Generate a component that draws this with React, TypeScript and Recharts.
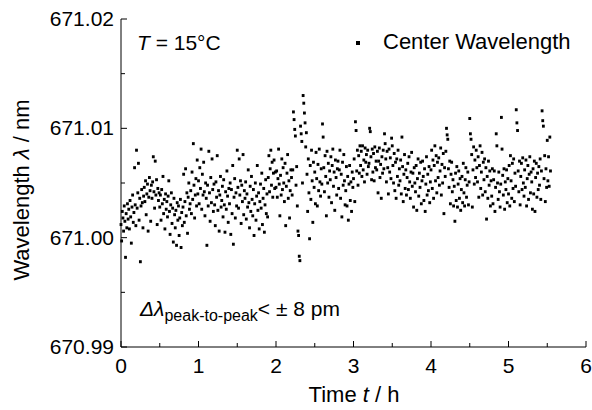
import { ScatterChart, Scatter, XAxis, YAxis } from "recharts";

// wavelength offsets from 671.000 nm, in pm, sampled every 0.5 min (1/120 h)
const hour0 = [
    1.2, -0.3, 2.4, 1.8, 0.6, 2.9, 1.5, -1.8, 2.2, 0.9, 3.1, 1.7,
    2.6, 0.8, 3.4, 1.9, -0.5, 2.8, 3.9, 1.4, 2.3, 6.4, 3.0, 1.1,
    8.0, 2.7, 4.1, 6.8, 1.6, 3.6, -2.2, 2.9, 4.4, 3.2, 0.9, 3.8,
    4.6, 3.3, 5.2, 2.1, 4.0, 4.9, 0.6, 3.7, 5.5, 4.3, 1.5, 4.8,
    3.6, 5.1, 7.4, 4.2, 2.7, 7.0, 3.9, 5.3, 1.2, 4.5, 3.4, 4.1,
    2.8, 3.9, 1.6, 4.4, 3.1, 5.6, 2.2, 3.5, 0.8, 4.0, 2.6, 3.3,
    1.9, 3.8, 5.2, 2.4, 0.3, 3.0, 4.1, 1.3, 2.7, -0.4, 3.6, 2.1,
    0.9, 2.5, -0.7, 3.2, 1.6, 2.9, 0.2, 1.8, 3.5, -0.9, 2.3, 1.1,
    2.8, 5.8, 1.4, 3.3, 6.3, 2.0, 4.1, 0.4, 3.7, 5.0, 2.6, 3.1,
    4.3, 2.2, 6.0, 3.5, 8.6, 4.8, 1.8, 3.9, 5.4, 2.9, 7.1, 4.0,
];
const hour1 = [
    5.2, 3.1, 6.4, 4.5, 8.1, 2.6, 5.8, 3.9, 6.9, 4.2, 2.0, 5.0,
    3.6, -0.7, 4.8, 2.9, 7.9, 4.1, 1.5, 5.5, 3.2, 7.2, 4.4, 2.4,
    4.9, 3.0, 1.1, 5.1, 3.7, 7.5, 2.5, 4.3, 0.6, 3.9, 5.6, 2.8,
    3.4, 4.7, 1.9, 5.3, 3.0, 0.5, 4.2, 2.6, 6.1, 3.8, 1.4, 4.5,
    3.1, 5.0, 0.3, 4.4, 2.2, 6.6, -0.6, 3.7, 5.4, 1.8, 4.1, 2.9,
    8.0, 4.6, 2.7, 7.2, 3.9, 5.2, 1.3, 4.8, 3.3, 7.6, 2.1, 4.3,
    3.6, 5.1, 1.7, 4.0, 2.8, 6.2, 3.2, 0.9, 4.7, 2.4, 5.6, 3.5,
    2.0, 4.4, 0.2, 3.1, 5.0, 1.6, 3.8, 6.6, 2.5, 4.1, 0.8, 3.3,
    4.9, 2.7, 5.9, 1.2, 3.6, 4.5, 0.5, 3.0, 5.3, 2.2, 4.0, 1.9,
    5.5, 7.5, 4.2, 6.3, 8.0, 4.8, 6.9, 3.7, 5.9, 7.1, 4.5, 6.0,
];
const hour2 = [
    4.6, 6.1, 3.7, 5.4, 8.1, 4.9, 2.0, 5.7, 3.9, 7.2, 4.4, 6.4,
    5.0, 3.3, 6.8, 1.1, 4.7, 5.9, 7.6, 3.6, 5.2, 1.8, 4.3, 6.2,
    5.5, 3.9, 6.2, 11.5, 10.8, 9.9, 9.3, 4.8, 6.5, 2.9, 0.6, 0.2,
    -1.7, -2.1, 10.2, 9.5, 8.8, 5.0, 13.0, 12.3, 11.4, 10.5, 8.3, 9.6,
    5.8, 2.4, 7.2, 4.1, -0.1, 6.6, 3.5, 8.0, 5.2, 1.4, 6.9, 4.6,
    6.0, 3.1, 7.8, 5.4, 2.9, 6.7, 4.3, 8.1, 5.1, 3.8, 6.3, 4.9,
    10.4, 9.2, 6.4, 4.2, 7.5, 5.6, 2.0, 7.9, 5.0, 6.8, 3.7, 6.1,
    5.3, 7.4, 3.2, 6.6, 8.1, 4.7, 6.0, 2.5, 7.1, 5.5, 3.9, 6.3,
    7.0, 4.5, 6.2, 8.0, 3.6, 5.8, 1.9, 6.9, 4.8, 7.6, 5.2, 3.0,
    4.3, 6.5, 2.9, 5.6, 1.6, 4.9, 6.6, 3.4, 5.1, 2.4, 6.0, 4.6,
];
const hour3 = [
    5.4, 7.2, 3.3, 10.6, 9.8, 6.1, 8.0, 4.8, 7.5, 5.9, 8.4, 6.6,
    7.9, 5.6, 8.4, 6.2, 7.1, 5.1, 8.2, 6.9, 7.6, 5.8, 8.0, 6.5,
    6.8, 10.0, 9.7, 7.4, 5.3, 8.1, 6.0, 7.7, 5.2, 8.3, 6.4, 7.0,
    6.2, 7.9, 4.1, 7.0, 8.2, 5.5, 6.7, 3.6, 7.4, 5.9, 8.0, 6.3,
    9.5, 8.6, 7.2, 5.1, 7.9, 6.4, 4.0, 8.1, 6.0, 7.3, 5.4, 9.1,
    8.4, 6.6, 5.0, 7.7, 4.3, 6.9, 3.6, 7.2, 5.6, 8.0, 4.8, 6.3,
    5.2, 7.1, 4.0, 9.2, 6.5, 3.3, 5.8, 7.6, 4.5, 6.2, 3.9, 5.5,
    6.8, 4.4, 7.4, 5.1, 3.6, 6.0, 7.8, 4.7, 5.9, 2.8, 6.4, 5.0,
    4.2, 6.6, 2.5, 5.4, 7.2, 3.8, 5.9, 4.6, 6.9, 3.1, 5.2, 7.0,
    5.6, 3.4, 6.3, 2.4, 4.9, 7.4, 3.9, 5.8, 4.3, 6.5, 3.2, 5.1,
];
const hour4 = [
    6.2, 8.0, 4.5, 7.1, 3.6, 6.6, 8.4, 5.2, 7.5, 4.1, 6.9, 5.5,
    7.3, 4.8, 6.1, 8.2, 3.9, 6.7, 5.0, 7.7, 2.2, 6.4, 5.6, 7.9,
    10.0, 9.4, 9.0, 6.3, 4.6, 7.0, 3.1, 5.8, 6.9, 4.2, 5.3, 2.9,
    4.7, 1.5, 5.9, 3.4, 6.5, 2.8, 4.9, 6.1, 3.6, 5.4, 2.5, 4.4,
    5.6, 3.2, 6.8, 4.1, 2.9, 5.3, 6.4, 3.7, 4.8, 6.0, 3.0, 5.1,
    10.9, 9.5, 9.0, 7.6, 2.8, 6.2, 8.3, 4.9, 7.1, 5.5, 8.0, 6.4,
    5.1, 7.4, 3.7, 6.6, 8.4, 4.5, 6.0, 7.8, 3.9, 6.9, 5.3, 7.2,
    4.2, 6.4, 1.7, 5.6, 3.6, 7.0, 4.8, 6.1, 2.9, 5.2, 3.8, 6.3,
    3.1, 5.3, 6.1, 2.4, 4.6, 9.5, 8.4, 5.0, 3.5, 6.0, 4.2, 2.8,
    4.9, 11.0, 8.1, 5.7, 3.9, 6.3, 2.6, 5.1, 4.4, 6.2, 3.2, 5.4,
];
const hour5 = [
    4.0, 6.6, 2.9, 7.5, 5.2, 3.6, 6.8, 4.5, 7.2, 3.3, 5.9, 4.7,
    11.7, 10.5, 9.8, 6.1, 4.2, 7.0, 3.0, 5.6, 6.8, 4.4, 7.3, 5.0,
    3.8, 6.2, 4.6, 7.1, 2.9, 5.4, 6.6, 3.5, 5.8, 7.4, 4.1, 6.0,
    5.1, 2.6, 6.3, 4.0, 7.0, 2.4, 5.5, 6.8, 3.7, 5.9, 4.4, 6.5,
    4.8, 7.2, 3.5, 6.1, 11.6, 10.7, 10.2, 5.4, 7.5, 3.3, 6.3, 4.6,
    8.9, 5.2, 7.4, 4.7, 9.2, 6.1,
];

const hours = [hour0, hour1, hour2, hour3, hour4, hour5];
const xTicks = [0, 0.5, 1, 1.5, 2, 2.5, 3, 3.5, 4, 4.5, 5, 5.5, 6];
const yTicks = [670.99, 670.995, 671.0, 671.005, 671.01, 671.015, 671.02];

const data = hours.flatMap((vals, h) =>
    vals.map((v, i) => ({ t: h + i / 120, wl: 671 + v / 1000 }))
);

const FONT = '"Liberation Sans", Arial, sans-serif';

function isMajorX(v: number) {
    return Math.abs(v - Math.round(v)) < 1e-6;
}
function isMajorY(v: number) {
    return Math.abs(v * 100 - Math.round(v * 100)) < 1e-4;
}

const BottomTick = (p: any) => {
    const v = p.payload.value;
    const major = isMajorX(v);
    return (
        <g>
            <line x1={p.x} y1={p.y} x2={p.x} y2={p.y - (major ? 6 : 4)} stroke="#000" />
            {major && (
                <text x={p.x} y={p.y + 26} textAnchor="middle" fontSize={21} fontFamily={FONT} fill="#000">
                    {v}
                </text>
            )}
        </g>
    );
};
const TopTick = (p: any) => {
    const major = isMajorX(p.payload.value);
    return <line x1={p.x} y1={p.y} x2={p.x} y2={p.y + (major ? 6 : 4)} stroke="#000" />;
};
const LeftTick = (p: any) => {
    const v = p.payload.value;
    const major = isMajorY(v);
    return (
        <g>
            <line x1={p.x} y1={p.y} x2={p.x + (major ? 6 : 4)} y2={p.y} stroke="#000" />
            {major && (
                <text x={p.x - 7} y={p.y + 7} textAnchor="end" fontSize={21} fontFamily={FONT} fill="#000">
                    {v.toFixed(2)}
                </text>
            )}
        </g>
    );
};
const RightTick = (p: any) => {
    const major = isMajorY(p.payload.value);
    return <line x1={p.x} y1={p.y} x2={p.x - (major ? 6 : 4)} y2={p.y} stroke="#000" />;
};

const Dot = (p: any) => <rect x={p.cx - 1.4} y={p.cy - 1.5} width={2.8} height={3} fill="#000" />;

export default function App() {
    return (
        <div style={{ position: "relative", width: 592, height: 410, fontFamily: FONT, color: "#000" }}>
            <style>{`body{margin:0}`}</style>
            <ScatterChart width={592} height={410} margin={{ top: 19, right: 6, bottom: 33, left: 61 }}>
                <XAxis
                    xAxisId="b"
                    dataKey="t"
                    type="number"
                    domain={[0, 6]}
                    ticks={xTicks}
                    interval={0}
                    height={30}
                    tickSize={0}
                    tickMargin={0}
                    tickLine={false}
                    tick={BottomTick}
                    axisLine={{ stroke: "#000" }}
                />
                <XAxis
                    xAxisId="top"
                    orientation="top"
                    dataKey="t"
                    type="number"
                    domain={[0, 6]}
                    ticks={xTicks}
                    interval={0}
                    height={0}
                    tickSize={0}
                    tickMargin={0}
                    tickLine={false}
                    tick={TopTick}
                    axisLine={{ stroke: "#000" }}
                />
                <YAxis
                    yAxisId="l"
                    dataKey="wl"
                    type="number"
                    domain={[670.99, 671.02]}
                    ticks={yTicks}
                    interval={0}
                    width={60}
                    tickSize={0}
                    tickMargin={0}
                    tickLine={false}
                    tick={LeftTick}
                    axisLine={{ stroke: "#000" }}
                />
                <YAxis
                    yAxisId="r"
                    orientation="right"
                    dataKey="wl"
                    type="number"
                    domain={[670.99, 671.02]}
                    ticks={yTicks}
                    interval={0}
                    width={0}
                    tickSize={0}
                    tickMargin={0}
                    tickLine={false}
                    tick={RightTick}
                    axisLine={{ stroke: "#000" }}
                />
                <Scatter xAxisId="b" yAxisId="l" data={data} shape={Dot} isAnimationActive={false} />
            </ScatterChart>

            <div style={{ position: "absolute", left: 137, top: 31, fontSize: 21, lineHeight: "24px" }}>
                <i>T</i> = 15°C
            </div>
            <div style={{ position: "absolute", left: 356, top: 41, width: 4, height: 4, background: "#000" }} />
            <div style={{ position: "absolute", left: 383, top: 30, fontSize: 22, lineHeight: "24px" }}>
                Center Wavelength
            </div>
            <div style={{ position: "absolute", left: 140, top: 297, fontSize: 21, lineHeight: "24px", whiteSpace: "nowrap" }}>
                <i>Δλ</i>
                <span style={{ fontSize: 16, position: "relative", top: 5 }}>peak-to-peak</span>
                {"< ± 8 pm"}
            </div>
            <div
                style={{
                    position: "absolute",
                    left: 354,
                    top: 395,
                    transform: "translate(-50%, -50%)",
                    fontSize: 22,
                    whiteSpace: "nowrap",
                }}
            >
                Time <i>t</i> / h
            </div>
            <div
                style={{
                    position: "absolute",
                    left: 22,
                    top: 190,
                    transform: "translate(-50%, -50%) rotate(-90deg)",
                    fontSize: 22,
                    whiteSpace: "nowrap",
                }}
            >
                Wavelength <i>λ</i> / nm
            </div>
        </div>
    );
}
